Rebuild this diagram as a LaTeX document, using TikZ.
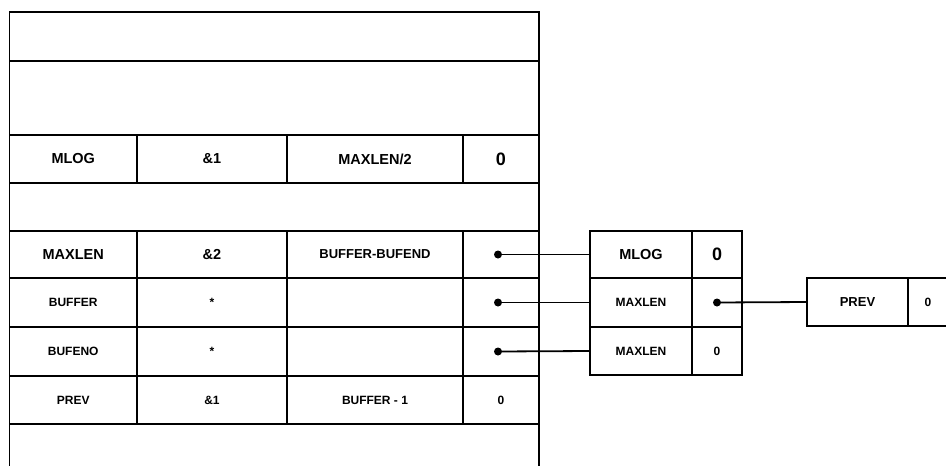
\documentclass[tikz,border=0pt]{standalone}
\usepackage{fontspec}
\setmainfont{Liberation Sans}
\begin{document}
\begin{tikzpicture}[x=1pt,y=-1pt]
\tikzset{
  cell/.style={draw, line width=1.8pt, inner sep=0pt, outer sep=0pt, anchor=north west,
    font=\bfseries\fontsize{14.5}{14.5}\selectfont},
  sm/.style={font=\bfseries\fontsize{12}{12}\selectfont},
  md/.style={font=\bfseries\fontsize{13}{13}\selectfont},
  big/.style={font=\bfseries\fontsize{18}{18}\selectfont},
  ca/.style={minimum width=127.5pt},
  cb/.style={minimum width=150pt},
  cc/.style={minimum width=176pt},
  cd/.style={minimum width=76pt},
  full/.style={minimum width=529.5pt},
  dot/.style={circle, fill, inner sep=0pt, minimum size=8pt},
  conn/.style={line width=1.8pt},
}
\useasboundingbox (0,0) rectangle (946,466);
% main table
\node[cell, full, minimum height=49pt] (r0) at (9.5,12) {};
\node[cell, full, minimum height=74pt] (r1) at (9.5,61) {};
\node[cell, ca, minimum height=48pt] (a2) at (9.5,135) {MLOG};
\node[cell, cb, minimum height=48pt] (b2) at (137,135) {\&1};
\node[cell, cc, minimum height=48pt] (c2) at (287,135) {MAXLEN/2};
\node[cell, cd, minimum height=48pt, big] (d2) at (463,135) {0};
\node[cell, full, minimum height=48pt] (r3) at (9.5,183) {};
\node[cell, ca, minimum height=47pt] (a4) at (9.5,231) {MAXLEN};
\node[cell, cb, minimum height=47pt] (b4) at (137,231) {\&2};
\node[cell, cc, minimum height=47pt, md] (c4) at (287,231) {BUFFER-BUFEND};
\node[cell, cd, minimum height=47pt] (d4) at (463,231) {};
\node[cell, ca, minimum height=49pt, sm] (a5) at (9.5,278) {BUFFER};
\node[cell, cb, minimum height=49pt, sm] (b5) at (137,278) {*};
\node[cell, cc, minimum height=49pt] (c5) at (287,278) {};
\node[cell, cd, minimum height=49pt] (d5) at (463,278) {};
\node[cell, ca, minimum height=49pt, sm] (a6) at (9.5,327) {BUFENO};
\node[cell, cb, minimum height=49pt, sm] (b6) at (137,327) {*};
\node[cell, cc, minimum height=49pt] (c6) at (287,327) {};
\node[cell, cd, minimum height=49pt] (d6) at (463,327) {};
\node[cell, ca, minimum height=48pt, sm] (a7) at (9.5,376) {PREV};
\node[cell, cb, minimum height=48pt, sm] (b7) at (137,376) {\&1};
\node[cell, cc, minimum height=48pt, sm] (c7) at (287,376) {BUFFER - 1};
\node[cell, cd, minimum height=48pt, sm] (d7) at (463,376) {0};
\node[cell, draw=none, full, minimum height=44pt] (r8) at (9.5,424) {};
\draw[conn] (r8.south west) -- (r8.north west) -- (r8.north east) -- (r8.south east);
% middle record
\node[cell, minimum width=102pt, minimum height=47pt] (m1) at (590,231) {MLOG};
\node[cell, minimum width=50pt, minimum height=47pt, big] (m1v) at (692,231) {0};
\node[cell, minimum width=102pt, minimum height=49pt, sm] (m2) at (590,278) {MAXLEN};
\node[cell, minimum width=50pt, minimum height=49pt] (m2v) at (692,278) {};
\node[cell, minimum width=102pt, minimum height=48pt, sm] (m3) at (590,327) {MAXLEN};
\node[cell, minimum width=50pt, minimum height=48pt, sm] (m3v) at (692,327) {0};
% right record
\node[cell, minimum width=101pt, minimum height=48pt, md] (p1) at (807,278) {PREV};
\node[cell, draw=none, minimum width=40pt, minimum height=48pt, sm] (p1v) at (908,278) {0};
\draw[conn] (p1v.north east) -- (p1v.north west) -- (p1v.south west) -- (p1v.south east);
% pointers
\node[dot] (k4) at ([xshift=-3pt]d4.center) {};
\node[dot] (k5) at ([xshift=-3pt]d5.center) {};
\node[dot] (k6) at ([xshift=-3pt]d6.center) {};
\node[dot] (km) at (m2v.center) {};
\draw[conn] (k4.center) -- (m1.west);
\draw[conn] (k5.center) -- (m2.west);
\draw[conn] (k6.center) -- (m3.west);
\draw[conn] (km.center) -- (p1.west);
\end{tikzpicture}
\end{document}
